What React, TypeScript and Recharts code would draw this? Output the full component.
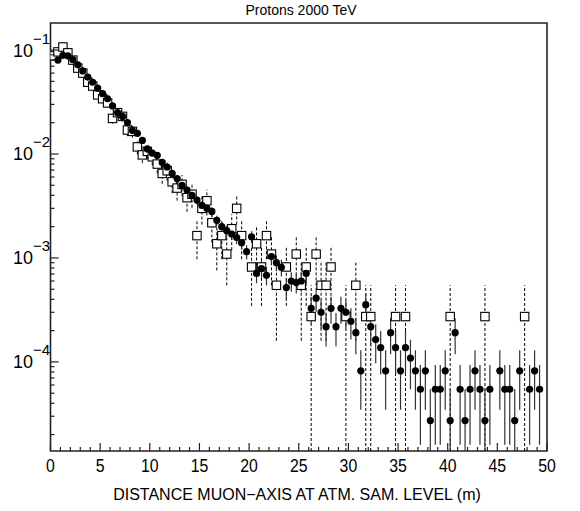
import React from "react";
import { ScatterChart, Scatter, XAxis, YAxis, ErrorBar, ReferenceArea } from "recharts";

// bin centres (m), 0.5 m bins
const BIN_X = [
  0.25, 0.75, 1.25, 1.75, 2.25, 2.75, 3.25, 3.75, 4.25, 4.75,
  5.25, 5.75, 6.25, 6.75, 7.25, 7.75, 8.25, 8.75, 9.25, 9.75,
  10.25, 10.75, 11.25, 11.75, 12.25, 12.75, 13.25, 13.75, 14.25, 14.75,
  15.25, 15.75, 16.25, 16.75, 17.25, 17.75, 18.25, 18.75, 19.25, 19.75,
  20.25, 20.75, 21.25, 21.75, 22.25, 22.75, 23.25, 23.75, 24.25, 24.75,
  25.25, 25.75, 26.25, 26.75, 27.25, 27.75, 28.25, 28.75, 29.25, 29.75,
  30.25, 30.75, 31.25, 31.75, 32.25, 32.75, 33.25, 33.75, 34.25, 34.75,
  35.25, 35.75, 36.25, 36.75, 37.25, 37.75, 38.25, 38.75, 39.25, 39.75,
  40.25, 40.75, 41.25, 41.75, 42.25, 42.75, 43.25, 43.75, 44.25, 44.75,
  45.25, 45.75, 46.25, 46.75, 47.25, 47.75, 48.25, 48.75, 49.25, 49.75,
];

// filled circles (solid error bars)
const CIRCLES = [
  null, 0.080, 0.089, 0.088, 0.081, 0.072, 0.063, 0.055, 0.049, 0.043,
  0.038, 0.034, 0.029, 0.025, 0.023, 0.020, 0.0168, 0.0158, 0.0135, 0.0112,
  0.0102, 0.0097, 0.0083, 0.0075, 0.0065, 0.0058, 0.0050, 0.0045, 0.0040, 0.0036,
  0.0032, 0.0030, 0.0028, 0.0023, 0.0020, 0.00183, 0.00170, 0.00157, 0.00140, 0.00115,
  0.00160, 0.00071, 0.00079, 0.00068, 0.00103, 0.00090, 0.00081, 0.00052, 0.00060, 0.00058,
  0.00060, 0.00071, 3.28e-4, 4.10e-4, 3.00e-4, 2.18e-4, 3.28e-4, 2.18e-4, 3.28e-4, 3.00e-4,
  2.46e-4, 1.91e-4, 8.2e-5, 3.55e-4, 2.18e-4, 1.64e-4, 1.37e-4, 8.2e-5, 1.91e-4, 1.37e-4,
  8.2e-5, 1.37e-4, 1.09e-4, 8.2e-5, 5.46e-5, 8.2e-5, 2.73e-5, 5.46e-5, 5.46e-5, 8.2e-5,
  2.73e-5, 1.91e-4, 5.46e-5, 2.73e-5, 5.46e-5, 8.2e-5, 5.46e-5, 2.73e-5, 5.46e-5, null,
  8.2e-5, 5.46e-5, 5.46e-5, 2.73e-5, 8.2e-5, null, 5.46e-5, 8.2e-5, 5.46e-5, null,
];

// open squares (dashed error bars)
const SQUARES = [
  0.088, 0.096, 0.107, 0.094, 0.080, 0.067, 0.060, 0.049, 0.045, 0.037,
  0.034, 0.031, 0.022, 0.025, 0.023, 0.017, 0.0165, 0.0117, 0.0098, 0.0106,
  0.0094, 0.0080, 0.0065, 0.0069, 0.0054, 0.0047, 0.0051, 0.0038, 0.0041, 1.64e-3,
  3.0e-3, 3.55e-3, 2.18e-3, 1.37e-3, 1.64e-3, 1.09e-3, 1.91e-3, 3.0e-3, 1.64e-3, null,
  8.19e-4, 1.37e-3, 8.19e-4, 1.64e-3, 1.09e-3, 5.46e-4, null, 8.19e-4, null, 1.09e-3,
  5.46e-4, 8.19e-4, 2.73e-4, 1.09e-3, 5.46e-4, 5.46e-4, 8.19e-4, null, null, 2.73e-4,
  null, 5.46e-4, null, 2.73e-4, 2.73e-4, null, null, null, null, 2.73e-4,
  null, 2.73e-4, null, null, null, null, null, null, null, null,
  2.73e-4, null, null, null, null, null, null, 2.73e-4, null, null,
  null, null, null, null, null, 2.73e-4, null, null, null, null,
];

// value of one entry in each histogram (poisson errors)
const UNIT_CIRCLE = 2.73e-5;
const UNIT_SQUARE = 2.73e-4;

const Y_MIN = 1.39e-5;
const Y_MAX = 0.182;
const Y_MAJOR = [1e-4, 1e-3, 1e-2, 1e-1];
const Y_MAJOR_EXP = ["\u22124", "\u22123", "\u22122", "\u22121"];
const Y_DECADES = [1e-5, 1e-4, 1e-3, 1e-2, 1e-1];
const X_LABELS = [0, 5, 10, 15, 20, 25, 30, 35, 40, 45, 50];

const FONT = "'Liberation Sans', Arial, sans-serif";

const Y_TICKS: number[] = [];
Y_DECADES.forEach((d) => {
  for (let k = 1; k <= 9; k++) {
    const v = k === 1 ? d : k * d;
    if (v >= Y_MIN && v <= Y_MAX) Y_TICKS.push(v);
  }
});
const X_TICKS: number[] = [];
for (let i = 0; i <= 50; i++) X_TICKS.push(i);

function buildSeries(values: (number | null)[], unit: number) {
  return BIN_X.map((x, i) => ({ x, y: values[i] }))
    .filter((d) => d.y != null)
    .map((d) => {
      const y = d.y as number;
      const e = Math.sqrt(y * unit);
      return { x: d.x, y, err: [Math.min(e, y - Y_MIN), e] };
    });
}

const circleData = buildSeries(CIRCLES, UNIT_CIRCLE);
const squareData = buildSeries(SQUARES, UNIT_SQUARE);

function XTick(props: any) {
  const { x, y, payload } = props;
  const major = X_LABELS.includes(payload.value);
  return (
    <g>
      <line x1={x} x2={x} y1={y} y2={y - (major ? 8 : 4)} stroke="#222" strokeWidth={1.2} />
      {major && (
        <g transform={`translate(${x},${y + 20.5}) scale(0.88,1)`}>
          <text x={0} y={0} textAnchor="middle" fontSize={18} fontFamily={FONT} fill="#000">
            {payload.value}
          </text>
        </g>
      )}
    </g>
  );
}

function YTick(props: any) {
  const { x, y, payload } = props;
  const idx = Y_MAJOR.indexOf(payload.value);
  const major = idx >= 0;
  return (
    <g>
      <line x1={x} x2={x + (major ? 8 : 4)} y1={y} y2={y} stroke="#222" strokeWidth={1.2} />
      {major && (
        <g transform={`translate(${x},${y})`}>
          <text x={-17.5} y={6.5} textAnchor="end" fontSize={18} fontFamily={FONT} fill="#000">
            10
          </text>
          <text x={-17.5} y={-6.5} textAnchor="start" fontSize={15} fontFamily={FONT} fill="#000">
            {Y_MAJOR_EXP[idx]}
          </text>
        </g>
      )}
    </g>
  );
}

const Dot = (p: any) => <circle cx={p.cx} cy={p.cy} r={3.6} fill="#000" />;
const Box = (p: any) => (
  <rect x={p.cx - 4.2} y={p.cy - 4.2} width={8.4} height={8.4} fill="#fff" stroke="#000" strokeWidth={1.1} />
);

export default function App() {
  return (
    <div
      style={{
        position: "absolute",
        left: 0,
        top: 0,
        width: 580,
        height: 511,
        background: "#fff",
        fontFamily: FONT,
      }}
    >
      <div
        style={{
          position: "absolute",
          top: 3,
          left: 0,
          width: 602,
          textAlign: "center",
          fontSize: 14,
          lineHeight: "14px",
        }}
      >
        Protons 2000 TeV
      </div>
      <ScatterChart width={580} height={511} margin={{ top: 23, right: 33, bottom: 30, left: 0 }}>
        <XAxis
          type="number"
          dataKey="x"
          domain={[0, 50]}
          ticks={X_TICKS}
          interval={0}
          allowDataOverflow
          axisLine={false}
          tickLine={false}
          tickSize={0}
          tickMargin={0}
          height={30}
          tick={(p: any) => <XTick {...p} />}
        />
        <YAxis
          type="number"
          dataKey="y"
          scale="log"
          domain={[Y_MIN, Y_MAX]}
          ticks={Y_TICKS}
          interval={0}
          allowDataOverflow
          axisLine={false}
          tickLine={false}
          tickSize={0}
          tickMargin={0}
          width={50.5}
          tick={(p: any) => <YTick {...p} />}
        />
        <Scatter data={squareData} shape={Box} isAnimationActive={false}>
          <ErrorBar dataKey="err" direction="y" width={0} stroke="#000" strokeWidth={1} strokeDasharray="3 2" />
        </Scatter>
        <Scatter data={circleData} shape={Dot} isAnimationActive={false}>
          <ErrorBar dataKey="err" direction="y" width={0} stroke="#333" strokeWidth={1.2} />
        </Scatter>
        <ReferenceArea
          x1={0}
          x2={50}
          y1={Y_MIN}
          y2={Y_MAX}
          fill="none"
          stroke="#222"
          strokeWidth={1.6}
          ifOverflow="visible"
        />
      </ScatterChart>
      <div
        style={{
          position: "absolute",
          top: 487,
          left: 0,
          width: 594,
          textAlign: "center",
          fontSize: 16,
          lineHeight: "16px",
        }}
      >
        DISTANCE MUON{"\u2212"}AXIS AT ATM. SAM. LEVEL (m)
      </div>
    </div>
  );
}
